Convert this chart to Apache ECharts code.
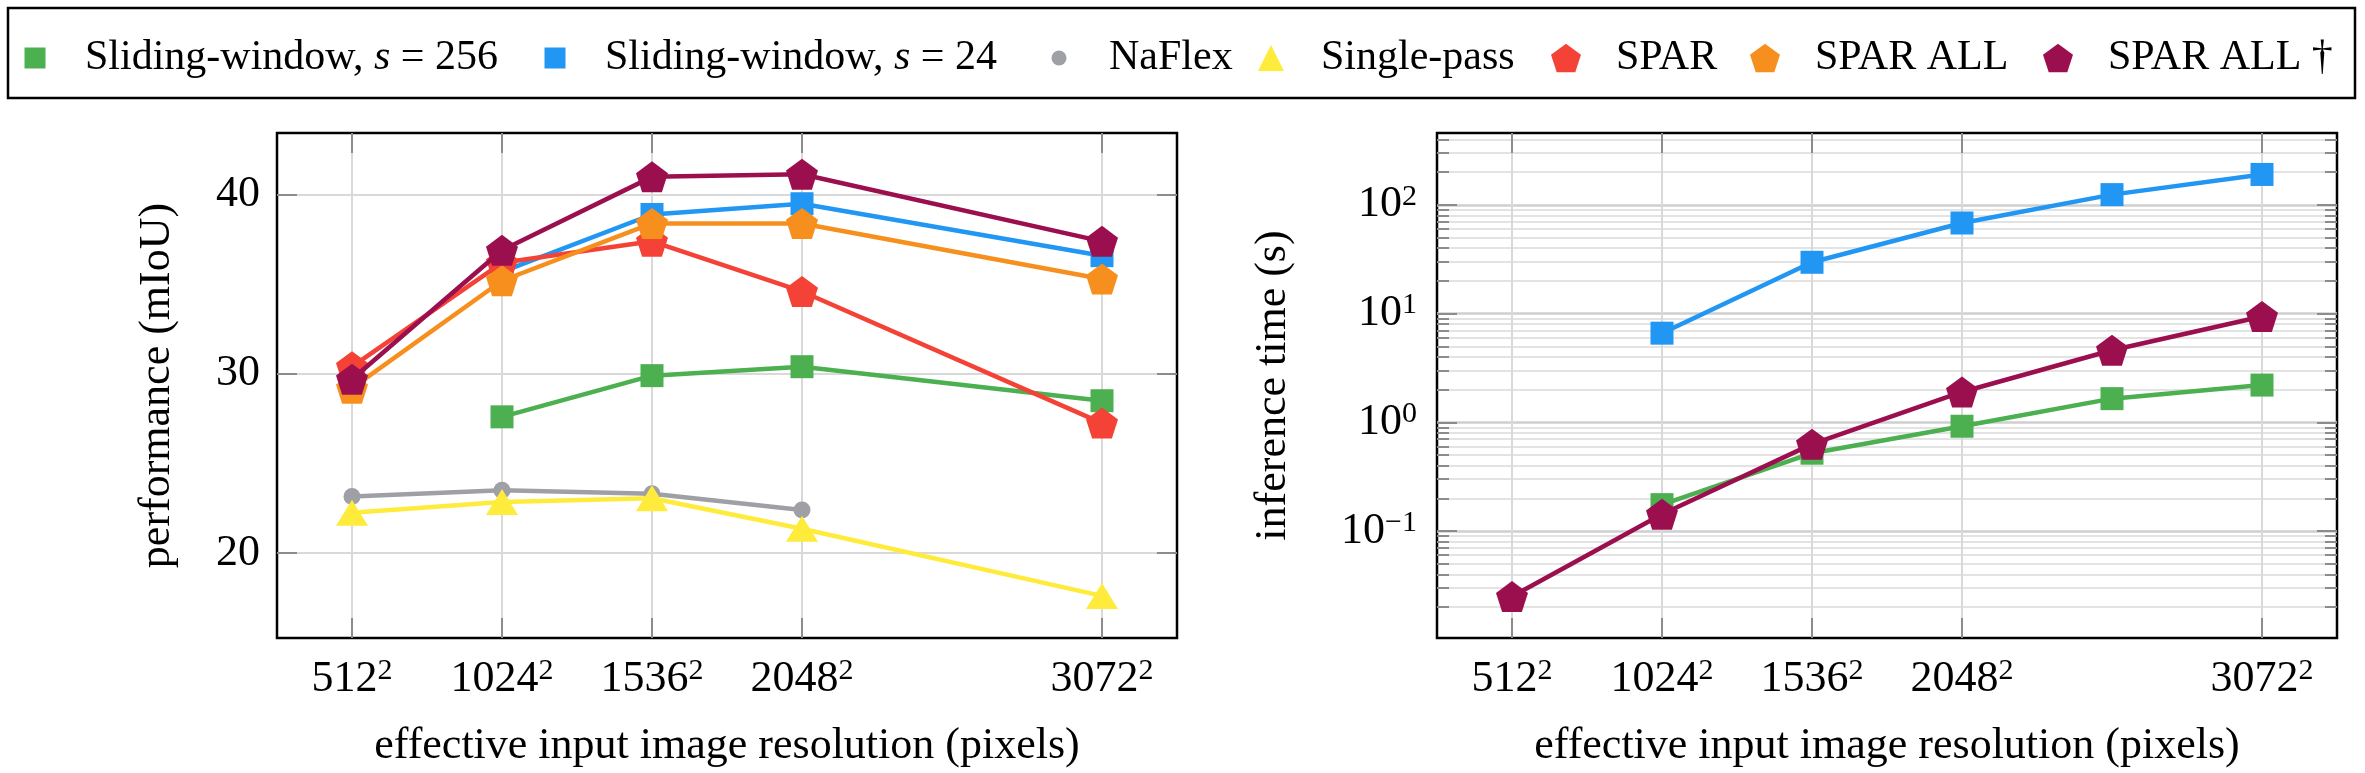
<!DOCTYPE html>
<html lang="en">
<head>
<meta charset="UTF-8">
<script src="https://cdn.jsdelivr.net/npm/echarts@6/dist/echarts.min.js"></script>
<style>
  html, body { margin: 0; padding: 0; background: #fff; }
  #main { width: 2365px; height: 773px; }
</style>
</head>
<body>
<div id="main"></div>
<script>
// x positions (effective resolution, side length in pixels)
var resolutions = [512, 1024, 1536, 2048, 3072];
var timeResolutions = [512, 1024, 1536, 2048, 2560, 3072];
var xTickValues = [512, 1024, 1536, 2048, 3072];
var perfTickValues = [20, 30, 40];
var timeTickValues = [0.1, 1, 10, 100];
var timeMinorValues = [0.02, 0.03, 0.04, 0.05, 0.06, 0.07, 0.08, 0.09,
                       0.2, 0.3, 0.4, 0.5, 0.6, 0.7, 0.8, 0.9,
                       2, 3, 4, 5, 6, 7, 8, 9,
                       20, 30, 40, 50, 60, 70, 80, 90,
                       200, 300, 400];

// performance (mIoU), left panel
var sw256Perf     = [null, 27.6, 29.9, 30.4, 28.5];
var sw24Perf      = [null, 35.7, 38.9, 39.5, 36.6];
var naflexPerf    = [23.15, 23.5, 23.3, 22.4, null];
var singlePerf    = [22.25, 22.85, 23.05, 21.35, 17.6];
var sparPerf      = [30.4, 36.2, 37.4, 34.6, 27.25];
var sparAllPerf   = [29.2, 35.2, 38.4, 38.4, 35.3];
var sparAllDgPerf = [29.7, 36.9, 41.0, 41.15, 37.4];

// inference time (s), right panel
var sw256Time     = [null, 0.175, 0.52, 0.92, 1.65, 2.2];
var sw24Time      = [null, 6.6, 29.6, 68, 124, 190];
var sparAllDgTime = [0.025, 0.143, 0.63, 1.9, 4.6, 9.4];

var names = ['Sliding-window, s = 256', 'Sliding-window, s = 24', 'NaFlex',
             'Single-pass', 'SPAR', 'SPAR ALL', 'SPAR ALL \u2020'];
var colors = ['#4CAF50', '#2196F3', '#9EA0A5', '#FFEB3B', '#F44336', '#F78F1E', '#9C0F4E'];

var serif = 'Liberation Serif, Times New Roman, serif';
var pentagon = 'path://M50,0 L97.55,34.55 L79.39,90.45 L20.61,90.45 L2.45,34.55 Z';
var symbols = ['rect', 'rect', 'circle', 'triangle', pentagon, pentagon, pentagon];
var symbolSizes = [23, 23, 17, [32, 26], [32, 31], [32, 31], [32, 31]];

// legend layout: icon centre x and icon size for each entry
var legendCenters = [30, 550, 1054, 1266, 1561, 1760, 2053];
var legendIconSizes = [21, 21, 15, 26, 30, 30, 30];

function pairs(xs, ys) {
    var out = [];
    for (var i = 0; i < xs.length; i++) {
        if (ys[i] != null) out.push([xs[i], ys[i]]);
    }
    return out;
}

function lineSeries(idx, xs, ys, xAxisIndex, yAxisIndex) {
    return {
        name: names[idx],
        type: 'line',
        xAxisIndex: xAxisIndex,
        yAxisIndex: yAxisIndex,
        data: pairs(xs, ys),
        symbol: symbols[idx],
        symbolSize: symbolSizes[idx],
        lineStyle: { color: colors[idx], width: 4.5 },
        itemStyle: { color: colors[idx], opacity: 1 },
        emphasis: { disabled: true },
        z: 3 + idx
    };
}

var supRich = {
    sup: { fontSize: 30, fontFamily: serif, color: '#000', verticalAlign: 'top', lineHeight: 28 }
};
var tickStyle = { color: '#8c8c8c', width: 2 };

function xAxisMain(gridIndex) {
    return {
        type: 'value', gridIndex: gridIndex, position: 'bottom',
        min: 256, max: 3328,
        name: 'effective input image resolution (pixels)',
        nameLocation: 'middle', nameGap: 86,
        nameTextStyle: { fontSize: 44, fontFamily: serif, color: '#000' },
        axisLine: { show: false },
        axisTick: { show: true, inside: true, length: 20, lineStyle: tickStyle, customValues: xTickValues },
        axisLabel: {
            customValues: xTickValues, margin: 18,
            fontSize: 44, fontFamily: serif, color: '#000', lineHeight: 46,
            formatter: function (v) { return v + '{sup|2}'; },
            rich: supRich
        },
        splitLine: { show: true, lineStyle: { color: '#d9d9d9', width: 2 } }
    };
}

function xAxisTop(gridIndex) {
    return {
        type: 'value', gridIndex: gridIndex, position: 'top',
        min: 256, max: 3328,
        axisLine: { show: false },
        axisTick: { show: true, inside: true, length: 20, lineStyle: tickStyle, customValues: xTickValues },
        axisLabel: { show: false },
        splitLine: { show: false }
    };
}

function logTickAxis(position, values, len, splitShow, splitColor) {
    return {
        type: 'log', logBase: 10, gridIndex: 1, position: position,
        min: 0.0104, max: 457,
        axisLine: { show: false },
        axisTick: { show: true, inside: true, length: len, lineStyle: tickStyle, customValues: values },
        axisLabel: { show: false },
        splitLine: { show: splitShow, lineStyle: { color: splitColor, width: 2 } }
    };
}

function expLabel(v) {
    var e = Math.round(Math.log(v) / Math.LN10);
    return '10{sup|' + (e < 0 ? '\u2212' + (-e) : e) + '}';
}

// legend text: everything in rich tokens, the "s" in italic
function legendText(n) {
    var k = n.indexOf(' s = ');
    if (k < 0) return '{t|' + n + '}';
    return '{t|' + n.slice(0, k + 1) + '}{i|s}{t|' + n.slice(k + 2) + '}';
}

// one legend per entry so each sits where it does in the figure
var legends = names.map(function (n, i) {
    var s = legendIconSizes[i];
    return {
        left: legendCenters[i] - s / 2, top: 53 - 21,
        selectedMode: false,
        itemWidth: s, itemHeight: s,
        data: [{ name: n, icon: symbols[i], itemStyle: { color: colors[i] } }],
        formatter: legendText,
        textStyle: {
            fontSize: 42, fontFamily: serif, color: '#000', padding: [0, 0, 0, 45 - s / 2],
            rich: {
                t: { fontSize: 42, fontFamily: serif, color: '#000' },
                i: { fontSize: 42, fontFamily: serif, fontStyle: 'italic', color: '#000' }
            }
        }
    };
});

var series = [
    lineSeries(0, resolutions, sw256Perf, 0, 0),
    lineSeries(1, resolutions, sw24Perf, 0, 0),
    lineSeries(2, resolutions, naflexPerf, 0, 0),
    lineSeries(3, resolutions, singlePerf, 0, 0),
    lineSeries(4, resolutions, sparPerf, 0, 0),
    lineSeries(5, resolutions, sparAllPerf, 0, 0),
    lineSeries(6, resolutions, sparAllDgPerf, 0, 0),
    lineSeries(0, timeResolutions, sw256Time, 2, 2),
    lineSeries(1, timeResolutions, sw24Time, 2, 2),
    lineSeries(6, timeResolutions, sparAllDgTime, 2, 2)
];

var chart = echarts.init(document.getElementById('main'), null, { renderer: 'canvas' });
chart.setOption({
    animation: false,
    backgroundColor: '#fff',
    textStyle: { fontFamily: serif },
    graphic: [{
        type: 'rect', z: 0,
        shape: { x: 8, y: 8, width: 2347, height: 90 },
        style: { fill: 'none', stroke: '#000', lineWidth: 2.5 }
    }],
    legend: legends,
    grid: [
        { left: 277, top: 133, width: 900, height: 506, show: true,
          borderColor: '#000', borderWidth: 2.5, backgroundColor: 'transparent' },
        { left: 1437, top: 133, width: 900, height: 506, show: true,
          borderColor: '#000', borderWidth: 2.5, backgroundColor: 'transparent' }
    ],
    xAxis: [xAxisMain(0), xAxisTop(0), xAxisMain(1), xAxisTop(1)],
    yAxis: [
        {
            type: 'value', gridIndex: 0, position: 'left',
            min: 15.25, max: 43.45,
            name: 'performance (mIoU)', nameLocation: 'middle', nameGap: 98, nameRotate: 90,
            nameTextStyle: { fontSize: 44, fontFamily: serif, color: '#000' },
            axisLine: { show: false },
            axisTick: { show: true, inside: true, length: 20, lineStyle: tickStyle, customValues: perfTickValues },
            axisLabel: { customValues: perfTickValues, margin: 17, fontSize: 44, fontFamily: serif, color: '#000' },
            splitLine: { show: true, lineStyle: { color: '#d9d9d9', width: 2 } }
        },
        {
            type: 'value', gridIndex: 0, position: 'right',
            min: 15.25, max: 43.45,
            axisLine: { show: false },
            axisTick: { show: true, inside: true, length: 20, lineStyle: tickStyle, customValues: perfTickValues },
            axisLabel: { show: false },
            splitLine: { show: false }
        },
        {
            type: 'log', logBase: 10, gridIndex: 1, position: 'left',
            min: 0.0104, max: 457,
            name: 'inference time (s)', nameLocation: 'middle', nameGap: 142, nameRotate: 90,
            nameTextStyle: { fontSize: 44, fontFamily: serif, color: '#000' },
            axisLine: { show: false },
            axisTick: { show: true, inside: true, length: 20, lineStyle: tickStyle, customValues: timeTickValues },
            axisLabel: {
                customValues: timeTickValues, margin: 20,
                fontSize: 44, fontFamily: serif, color: '#000', lineHeight: 46,
                formatter: expLabel, rich: supRich
            },
            splitLine: { show: true, lineStyle: { color: '#cfcfcf', width: 2.5 } }
        },
        logTickAxis('left', timeMinorValues, 12, true, '#e3e3e3'),
        logTickAxis('right', timeTickValues, 20, false, '#fff'),
        logTickAxis('right', timeMinorValues, 12, false, '#fff')
    ],
    series: series
});
</script>
</body>
</html>
